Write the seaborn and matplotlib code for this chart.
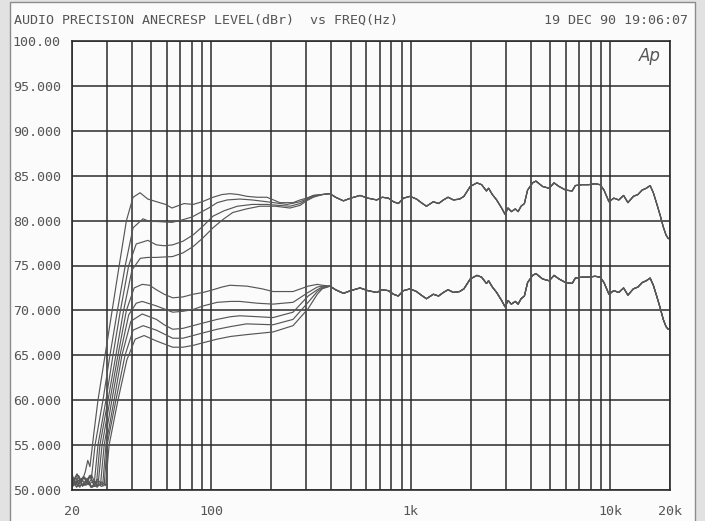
import matplotlib
matplotlib.use("Agg")
import matplotlib.pyplot as plt
from matplotlib.patches import Rectangle
from matplotlib.ticker import FixedLocator, NullFormatter
import seaborn as sns
import pandas as pd

# ---- data (Hz, dBr) ----
# upper group, low-frequency part up to where the curves merge
u1_freq = [20, 20.8, 21.6, 22.4, 23.3, 24.0, 24.6, 25.8, 27.0, 29.3, 31.8, 34.5, 37.5, 40.5, 43.9, 48, 55, 59,
           63.5, 67, 73, 81, 90, 102, 113, 124, 137, 151, 170, 190, 221, 257, 279, 300, 325, 360]
u1_db = [51.8, 50.6, 51.6, 50.9, 52.0, 53.3, 52.6, 56.5, 60.0, 65.0, 70.0, 75.0, 80.0, 82.6, 83.1, 82.4, 82.0, 81.8,
         81.4, 81.6, 81.9, 81.8, 82.1, 82.6, 82.9, 83.0, 82.9, 82.7, 82.6, 82.6, 82.0, 82.0, 82.3, 82.5, 82.8, 82.9]

u2_freq = [20, 20.9, 21.9, 22.9, 24.0, 25.0, 26.1, 28.6, 31.0, 33.8, 37.0, 40.5, 45.4, 49, 53.4, 63.5, 72, 80,
           88, 97, 107, 120, 139, 160, 190, 240, 279, 300, 325, 360]
u2_db = [50.4, 51.4, 50.3, 51.5, 50.6, 51.2, 55.0, 60.0, 65.0, 70.0, 75.0, 79.2, 80.2, 79.9, 79.9, 79.8, 80.1, 80.4,
         80.9, 81.4, 82.0, 82.3, 82.4, 82.3, 82.1, 81.8, 82.1, 82.4, 82.8, 82.9]

u3_freq = [20, 21.1, 22.3, 23.5, 24.7, 25.8, 27.0, 29.6, 32.1, 35.0, 38.5, 42.0, 45, 48, 53, 58, 64, 72,
           81, 91, 102, 116, 135, 160, 190, 248, 279, 300, 325, 360]
u3_db = [51.0, 50.3, 51.3, 50.5, 51.6, 50.5, 55.0, 60.0, 65.0, 70.0, 75.0, 77.4, 77.6, 77.8, 77.3, 77.2, 77.3, 77.7,
         78.4, 79.4, 80.5, 81.1, 81.6, 81.8, 81.8, 81.6, 81.9, 82.3, 82.7, 82.9]

u4_freq = [20, 21.3, 22.6, 23.8, 25.0, 26.5, 27.6, 30.3, 33.2, 36.3, 40.0, 44, 48, 53, 64, 72, 81, 91,
           102, 114, 128, 150, 175, 210, 248, 279, 300, 325, 360]
u4_db = [50.7, 51.7, 50.4, 51.1, 50.3, 50.5, 55.0, 60.0, 65.0, 70.0, 74.5, 75.8, 75.9, 75.9, 76.0, 76.4, 77.1, 78.1,
         79.2, 80.1, 80.9, 81.3, 81.6, 81.6, 81.4, 81.7, 82.2, 82.6, 82.9]

# lower group
l1_freq = [20, 21.4, 22.8, 24.2, 25.6, 27.0, 28.3, 31.0, 34.0, 37.5, 41.0, 45, 49, 53, 58, 64, 72, 81,
           91, 102, 113, 124, 151, 180, 204, 257, 306, 340, 360]
l1_db = [51.2, 50.4, 51.5, 50.6, 51.0, 50.5, 55.0, 60.0, 65.0, 70.0, 72.5, 72.9, 72.8, 72.3, 71.8, 71.4, 71.5, 71.8,
         72.0, 72.3, 72.6, 72.8, 72.7, 72.4, 72.1, 72.1, 72.7, 72.9, 72.8]

l2_freq = [20, 21.5, 23.0, 24.5, 26.0, 27.8, 29.0, 31.7, 34.8, 38.5, 42.0, 45, 53, 64, 72, 81, 91, 107,
           125, 139, 170, 204, 257, 306, 340, 360]
l2_db = [50.3, 51.1, 50.5, 51.6, 50.4, 50.6, 55.0, 60.0, 65.0, 69.5, 70.8, 71.0, 70.5, 69.8, 69.9, 70.1, 70.5, 70.9,
         71.0, 71.0, 70.8, 70.7, 70.9, 72.0, 72.6, 72.7]

l3_freq = [20, 21.2, 22.5, 23.8, 25.2, 26.8, 28.5, 29.6, 32.5, 35.6, 39.5, 45, 53, 58, 64, 72, 81, 91,
           107, 125, 139, 170, 204, 257, 306, 340, 360]
l3_db = [50.8, 51.8, 50.5, 51.3, 50.3, 51.2, 50.5, 55.0, 60.0, 65.0, 68.8, 69.6, 69.0, 68.4, 67.9, 68.0, 68.3, 68.6,
         69.0, 69.3, 69.4, 69.3, 69.2, 69.8, 71.6, 72.3, 72.6]

l4_freq = [20, 21.6, 23.2, 24.9, 26.6, 28.0, 29.0, 30.0, 33.2, 36.9, 40.5, 45.5, 53, 64, 72, 81, 91, 107,
           125, 150, 204, 257, 306, 340, 360]
l4_db = [50.5, 50.9, 51.4, 50.3, 51.0, 50.4, 50.5, 55.0, 60.0, 65.0, 67.8, 68.3, 67.8, 66.9, 66.9, 67.2, 67.5, 67.9,
         68.2, 68.5, 68.4, 69.0, 70.9, 72.1, 72.5]

l5_freq = [20, 21.7, 23.4, 25.0, 26.7, 28.2, 29.5, 30.7, 34.0, 37.7, 41.5, 46, 53, 64, 72, 81, 91, 107,
           125, 150, 204, 257, 306, 340, 360]
l5_db = [51.5, 50.4, 50.8, 51.7, 50.3, 50.9, 50.5, 55.0, 60.0, 64.5, 66.8, 67.2, 66.6, 65.9, 65.9, 66.1, 66.4, 66.8,
         67.1, 67.3, 67.6, 68.3, 70.2, 71.8, 72.4]

# merged high-frequency traces (all curves of a group overlap here)
hf_freq = [394, 420, 460, 500, 557, 610, 676, 720, 773, 820, 867, 920, 993, 1070, 1130, 1200, 1300, 1380,
           1460, 1540, 1640, 1760, 1850, 1990, 2150, 2270, 2400, 2460, 2570, 2700, 2860, 2975, 3080, 3200,
           3350, 3460, 3580, 3720, 3860, 4090, 4250, 4590, 4950, 5240, 5550, 5990, 6460, 6700, 7230, 7800,
           8420, 8920, 9330, 9880, 10450, 11070, 11700, 12300, 13100, 13800, 14500, 15200, 15900, 16500,
           17200, 17900, 18500, 19100, 19600, 20000]
upper_hf = [83.0, 82.6, 82.2, 82.5, 82.8, 82.5, 82.3, 82.6, 82.5, 82.1, 81.9, 82.5, 82.7, 82.4, 82.0, 81.6, 82.1, 81.9,
            82.3, 82.6, 82.3, 82.4, 82.7, 83.8, 84.2, 84.0, 83.3, 83.6, 82.9, 82.3, 81.4, 80.7, 81.4, 81.0,
            81.3, 81.0, 81.6, 81.9, 83.4, 84.2, 84.4, 83.8, 83.6, 84.2, 83.8, 83.4, 83.3, 83.9, 84.0, 84.0,
            84.1, 84.0, 83.4, 82.1, 82.5, 82.3, 82.8, 82.0, 82.7, 82.9, 83.4, 83.6, 83.9, 83.1,
            81.8, 80.5, 79.3, 78.4, 78.0, 78.0]
lower_hf = [72.7, 72.3, 71.9, 72.2, 72.5, 72.2, 72.0, 72.3, 72.2, 71.8, 71.6, 72.2, 72.4, 72.1, 71.7, 71.3, 71.8, 71.6,
            72.0, 72.3, 72.0, 72.1, 72.4, 73.5, 73.9, 73.7, 73.0, 73.3, 72.6, 72.0, 71.1, 70.4, 71.1, 70.7,
            71.0, 70.7, 71.3, 71.6, 73.1, 73.9, 74.1, 73.5, 73.3, 73.9, 73.5, 73.1, 73.0, 73.6, 73.7, 73.7,
            73.8, 73.7, 73.1, 71.8, 72.2, 72.0, 72.5, 71.7, 72.4, 72.6, 73.1, 73.3, 73.6, 72.8,
            71.5, 70.2, 69.0, 68.2, 67.9, 67.9]

x_ticks = [20, 100, 1000, 10000, 20000]
x_labels = ["20", "100", "1k", "10k", "20k"]
y_ticks = [50, 55, 60, 65, 70, 75, 80, 85, 90, 95, 100]
y_labels = ["50.000", "55.000", "60.000", "65.000", "70.000", "75.000",
            "80.000", "85.000", "90.000", "95.000", "100.00"]

# ---- build long table ----
curves = {
    "u1": (u1_freq, u1_db, upper_hf), "u2": (u2_freq, u2_db, upper_hf),
    "u3": (u3_freq, u3_db, upper_hf), "u4": (u4_freq, u4_db, upper_hf),
    "l1": (l1_freq, l1_db, lower_hf), "l2": (l2_freq, l2_db, lower_hf),
    "l3": (l3_freq, l3_db, lower_hf), "l4": (l4_freq, l4_db, lower_hf),
    "l5": (l5_freq, l5_db, lower_hf),
}
frames = []
for name, (f, db, hf) in curves.items():
    frames.append(pd.DataFrame({"freq": f + hf_freq, "level": db + hf, "curve": name}))
df = pd.concat(frames, ignore_index=True)

sns.set_style("white")
plt.rcParams["font.family"] = ["DejaVu Sans Mono"]

W, H = 705, 521
fig = plt.figure(figsize=(W / 100, H / 100), dpi=100)
fig.patch.set_facecolor("#e2e2e2")
# paper sheet with its grey border (kept behind the axes)
fig.add_artist(Rectangle((10 / W, -0.01), 685 / W, 1 - 2 / H + 0.01, transform=fig.transFigure,
                         facecolor="#fbfbfb", edgecolor="#8c8c8c", lw=1.0, zorder=-10))

x0, x1, y0, y1 = 72, 670, 41, 490
ax = fig.add_axes([x0 / W, 1 - y1 / H, (x1 - x0) / W, (y1 - y0) / H])
ax.set_zorder(2)
ax.set_facecolor("#fbfbfb")

sns.lineplot(data=df, x="freq", y="level", units="curve", estimator=None, sort=False,
             color="#575757", lw=0.85, ax=ax)

ax.set_xscale("log")
ax.set_xlim(20, 20000)
ax.set_ylim(50, 100)
ax.set_xticks(x_ticks)
ax.set_xticklabels(x_labels)
minor = [m * d for d in (10, 100, 1000) for m in range(2, 10)]
minor = [v for v in minor if v not in x_ticks and 20 < v < 20000]
ax.xaxis.set_minor_locator(FixedLocator(minor))
ax.xaxis.set_minor_formatter(NullFormatter())
ax.set_yticks(y_ticks)
ax.set_yticklabels(y_labels)
ax.grid(True, which="both", color="#2b2b2b", lw=1.1)
ax.set_axisbelow(True)
ax.tick_params(which="both", length=0, labelsize=9.6, labelcolor="#555555")
ax.tick_params(axis="x", pad=11)
ax.tick_params(axis="y", pad=8)
ax.set_xlabel("")
ax.set_ylabel("")
for s in ax.spines.values():
    s.set_color("#2b2b2b")
    s.set_linewidth(1.2)

fig.text(14 / W, 1 - 20 / H, "AUDIO PRECISION ANECRESP LEVEL(dBr)  vs FREQ(Hz)",
         fontsize=9.6, color="#555555", ha="left", va="center")
fig.text(688 / W, 1 - 20 / H, "19 DEC 90 19:06:07",
         fontsize=9.6, color="#555555", ha="right", va="center")
fig.text(650 / W, 1 - 56 / H, "Ap", fontsize=12, style="italic", color="#555555",
         ha="center", va="center", family="DejaVu Sans", zorder=5)

fig.savefig("out.png", dpi=100, facecolor=fig.get_facecolor())
